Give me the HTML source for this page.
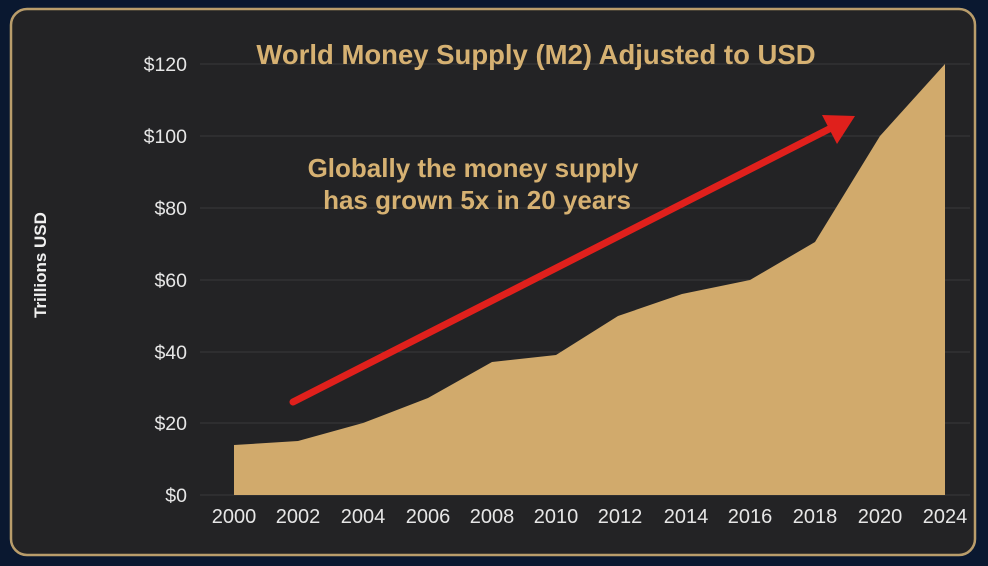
<!DOCTYPE html>
<html><head><style>
html,body{margin:0;padding:0;background:#0a1830;width:988px;height:566px;overflow:hidden}
</style></head><body>
<svg width="988" height="566" xmlns="http://www.w3.org/2000/svg" font-family="Liberation Sans, sans-serif">
<rect x="0" y="0" width="988" height="566" fill="#0a1830"/>
<rect x="11" y="9" width="964" height="546" rx="16" fill="#232325" stroke="#b99d6b" stroke-width="2.5"/>
<g stroke="#3a3a3a" stroke-width="1">
<line x1="200" y1="64" x2="970" y2="64"/><line x1="200" y1="136" x2="970" y2="136"/>
<line x1="200" y1="208" x2="970" y2="208"/><line x1="200" y1="280" x2="970" y2="280"/>
<line x1="200" y1="352" x2="970" y2="352"/><line x1="200" y1="423" x2="970" y2="423"/>
<line x1="200" y1="495" x2="970" y2="495"/>
</g>
<polygon fill="#d1aa6c" points="234,495 234,445 298,441 363,423 428,398 492,362 556,355 618,316 682,294 750,280 815,242 880,136 945,64 945,495"/>
<g fill="#e6e6e6" font-size="19.5" text-anchor="end">
<text x="187" y="71">$120</text><text x="187" y="143">$100</text><text x="187" y="215">$80</text>
<text x="187" y="287">$60</text><text x="187" y="359">$40</text><text x="187" y="430">$20</text>
<text x="187" y="502">$0</text>
</g>
<g fill="#e6e6e6" font-size="20" text-anchor="middle">
<text x="234" y="523">2000</text><text x="298" y="523">2002</text><text x="363" y="523">2004</text>
<text x="428" y="523">2006</text><text x="492" y="523">2008</text><text x="556" y="523">2010</text>
<text x="620" y="523">2012</text><text x="686" y="523">2014</text><text x="750" y="523">2016</text>
<text x="815" y="523">2018</text><text x="880" y="523">2020</text><text x="945" y="523">2024</text>
</g>
<text transform="translate(46,265) rotate(-90)" fill="#f0f0f0" font-size="17" font-weight="bold" text-anchor="middle">Trillions USD</text>
<text x="536" y="64" fill="#d6b172" font-size="27.5" font-weight="bold" text-anchor="middle">World Money Supply (M2) Adjusted to USD</text>
<text x="473" y="177" fill="#d6b172" font-size="26" font-weight="bold" text-anchor="middle">Globally the money supply</text>
<text x="477" y="209" fill="#d6b172" font-size="26" font-weight="bold" text-anchor="middle">has grown 5x in 20 years</text>
<line x1="293" y1="402" x2="835" y2="126" stroke="#e0201c" stroke-width="7" stroke-linecap="round"/>
<polygon fill="#e0201c" points="855,116 822,115 837,144"/>
</svg>
</body></html>
